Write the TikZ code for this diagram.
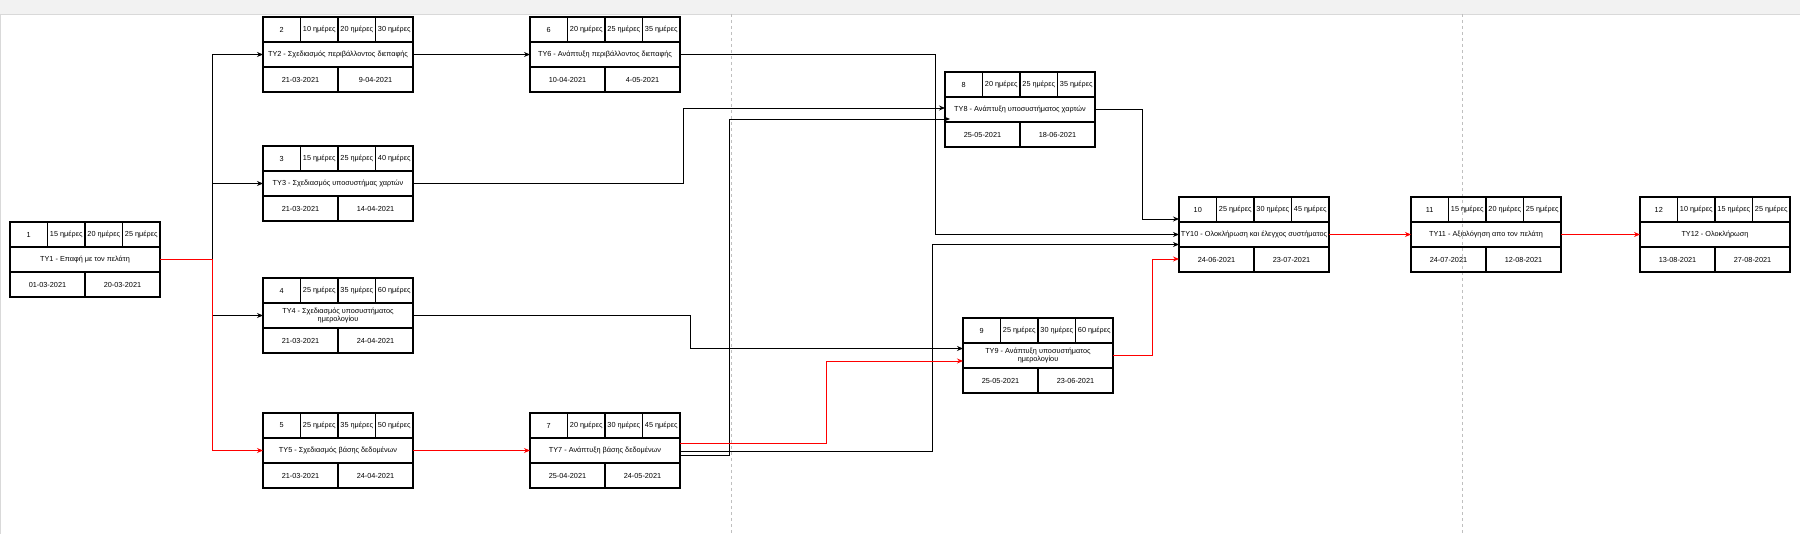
\documentclass[tikz,border=0pt]{standalone}
\usepackage{fontspec}
\setmainfont{Liberation Sans}
\usetikzlibrary{positioning,arrows.meta}
\tikzset{
task/.style={draw, line width=1.1pt, minimum width=150pt, minimum height=25pt, inner sep=0pt, outer sep=0pt, align=center, font=\fontsize{7.3}{8.4}\selectfont},
cell/.style={task, minimum width=37.5pt},
half/.style={task, minimum width=75pt},
link/.style={draw, line width=0.9pt, -{Stealth[length=6pt,width=5pt]}},
critical/.style={link, red},
pagebreak/.style={draw=black!25, line width=0.8pt, dash pattern=on 3pt off 3pt}
}
\newcommand{\taskbox}[7]{%
\node[cell, anchor=south west](#1n) at (#1.north west){#2};
\node[cell, right=0pt of #1n](#1a){#3};
\node[cell, right=0pt of #1a](#1b){#4};
\node[cell, right=0pt of #1b](#1c){#5};
\node[half, anchor=north west](#1s) at (#1.south west){#6};
\node[half, right=0pt of #1s](#1e){#7};
}
\begin{document}
\begin{tikzpicture}[x=1pt,y=-1pt]
\useasboundingbox (0,0) rectangle (1800,534);
\fill[black!5] (0,0) rectangle (1800,14);
\draw[black!15] (0,14) -- (1800,14);
\draw[black!15] (0.5,14) -- (0.5,534);
\draw[pagebreak] (731,14) -- (731,534);
\draw[pagebreak] (1462,14) -- (1462,534);
\node[task](ty1) at (85,259.5){ΤΥ1 - Επαφή με τον πελάτη};
\node[task, right=103pt of ty1, yshift=205pt](ty2){ΤΥ2 - Σχεδιασμός περιβάλλοντος διεπαφής};
\node[task, below=104pt of ty2](ty3){ΤΥ3 - Σχεδιασμός υποσυστήμας χαρτών};
\node[task, below=107pt of ty3](ty4){ΤΥ4 - Σχεδιασμός υποσυστήματος\\ημερολογίου};
\node[task, below=110pt of ty4](ty5){ΤΥ5 - Σχεδιασμός βάσης δεδομένων};
\node[task, right=117pt of ty2](ty6){ΤΥ6 - Ανάπτυξη περιβάλλοντος διεπαφής};
\node[task, right=117pt of ty5](ty7){ΤΥ7 - Ανάπτυξη βάσης δεδομένων};
\node[task, right=265pt of ty6, yshift=-55pt](ty8){ΤΥ8 - Ανάπτυξη υποσυστήματος χαρτών};
\node[task, right=283pt of ty7, yshift=95pt](ty9){ΤΥ9 - Ανάπτυξη υποσυστήματος\\ημερολογίου};
\node[task, right=84pt of ty8, yshift=-125pt](ty10){ΤΥ10 - Ολοκλήρωση και έλεγχος συστήματος};
\node[task, right=82pt of ty10](ty11){ΤΥ11 - Αξιολόγηση απο τον πελάτη};
\node[task, right=79pt of ty11](ty12){ΤΥ12 - Ολοκλήρωση};
\taskbox{ty1}{1}{15 ημέρες}{20 ημέρες}{25 ημέρες}{01-03-2021}{20-03-2021}
\taskbox{ty2}{2}{10 ημέρες}{20 ημέρες}{30 ημέρες}{21-03-2021}{9-04-2021}
\taskbox{ty3}{3}{15 ημέρες}{25 ημέρες}{40 ημέρες}{21-03-2021}{14-04-2021}
\taskbox{ty4}{4}{25 ημέρες}{35 ημέρες}{60 ημέρες}{21-03-2021}{24-04-2021}
\taskbox{ty5}{5}{25 ημέρες}{35 ημέρες}{50 ημέρες}{21-03-2021}{24-04-2021}
\taskbox{ty6}{6}{20 ημέρες}{25 ημέρες}{35 ημέρες}{10-04-2021}{4-05-2021}
\taskbox{ty7}{7}{20 ημέρες}{30 ημέρες}{45 ημέρες}{25-04-2021}{24-05-2021}
\taskbox{ty8}{8}{20 ημέρες}{25 ημέρες}{35 ημέρες}{25-05-2021}{18-06-2021}
\taskbox{ty9}{9}{25 ημέρες}{30 ημέρες}{60 ημέρες}{25-05-2021}{23-06-2021}
\taskbox{ty10}{10}{25 ημέρες}{30 ημέρες}{45 ημέρες}{24-06-2021}{23-07-2021}
\taskbox{ty11}{11}{15 ημέρες}{20 ημέρες}{25 ημέρες}{24-07-2021}{12-08-2021}
\taskbox{ty12}{12}{10 ημέρες}{15 ημέρες}{25 ημέρες}{13-08-2021}{27-08-2021}
\coordinate[right=52pt of ty1.east](fork);
\draw[link] (ty1.east) -- (fork) |- (ty2.west);
\draw[link] (fork) |- (ty3.west);
\draw[link] (fork) |- (ty4.west);
\draw[link] (ty2) -- (ty6);
\draw[link] (ty3.east) -- ++(270,0) |- ([yshift=1.5pt]ty8.west);
\draw[link] (ty4.east) -- ++(277,0) |- ([yshift=7pt]ty9.west);
\draw[link] (ty6.east) -- ++(255,0) |- (ty10.west);
\draw[link] ([yshift=-1pt]ty7.east) -- ++(252,0) |- ([yshift=-10pt]ty10.west);
\draw[link] ([yshift=-4.5pt]ty7.east) -- ++(49,0) |- ([xshift=5pt,yshift=-9.5pt]ty8.west);
\draw[link] (ty8.east) -- ++(47,0) |- ([yshift=15.5pt]ty10.west);
\draw[critical] (ty1.east) -- (fork) |- (ty5.west);
\draw[critical] (ty5) -- (ty7);
\draw[critical] ([yshift=7.5pt]ty7.east) -- ++(146,0) |- ([yshift=-5.5pt]ty9.west);
\draw[critical] (ty9.east) -- ++(39,0) |- ([yshift=-24.5pt]ty10.west);
\draw[critical] (ty10) -- (ty11);
\draw[critical] (ty11) -- (ty12);
\end{tikzpicture}%critical path in red
\end{document}
